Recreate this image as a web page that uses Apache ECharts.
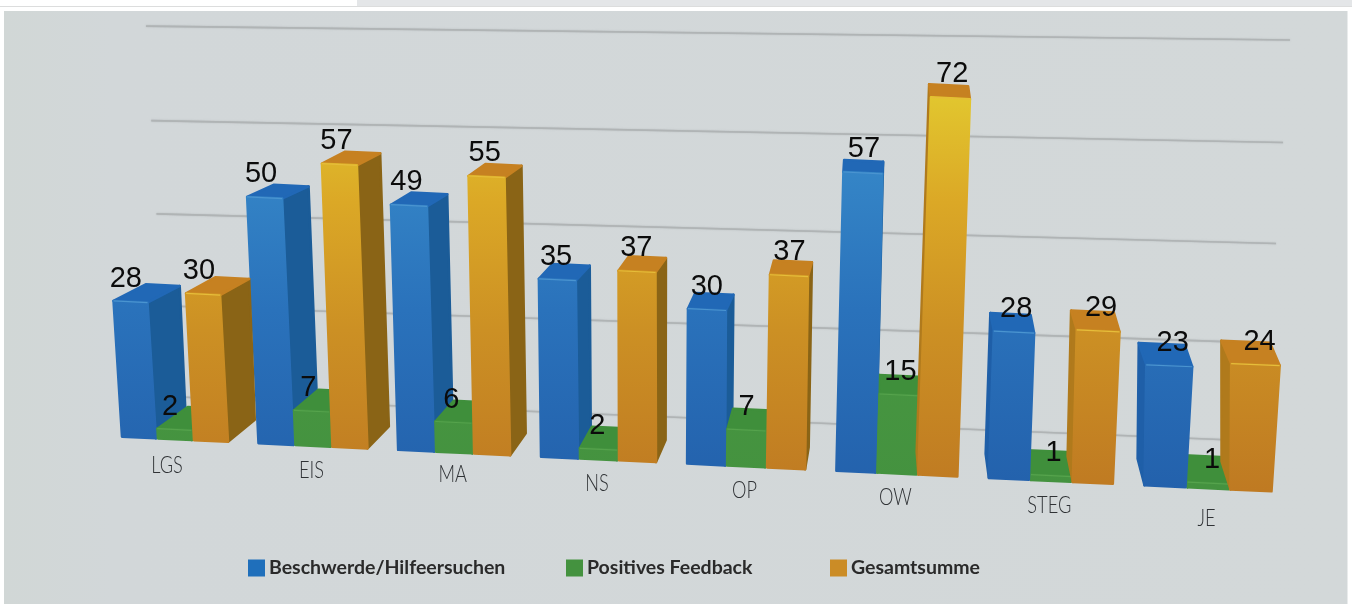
<!DOCTYPE html>
<html><head><meta charset="utf-8">
<style>html,body{margin:0;padding:0;background:#fff}#c{width:1352px;height:604px}</style>
<script src="https://cdn.jsdelivr.net/npm/echarts@6/dist/echarts.min.js"></script>
</head><body><div id="c"></div>
<script>
const categories = ['LGS','EIS','MA','NS','OP','OW','STEG','JE'];
const complaints = [28,50,49,35,30,57,28,23];
const feedback   = [2,7,6,2,7,15,1,1];
const totals     = [30,57,55,37,37,72,29,24];
const gridTicks  = [0,20,40,60,80];
const seriesNames = ['Beschwerde/Hilfeersuchen','Positives Feedback','Gesamtsumme'];

// plain-axis frame; the perspective warp below bends it to the photographed 3D scene
const GRID = {left:101.2, width:1180.6, top:50, height:400};
const UNIT = GRID.height/80, FLOOR = GRID.top+GRID.height, C0 = GRID.left+GRID.width/16, BAND = GRID.width/8;
const uOf = px => (px-C0)/BAND;
const vOf = py => (FLOOR-py)/UNIT;
const bendX = px => { const u=uOf(px); return px+1.6*u*(u-7); };
const base  = x => 437.5+(x-138)*0.0475;
const scale = x => Math.min(5.24,4.85+(x-138)*0.00055);
const lean  = x => Math.max(-0.035,(660-x)*0.00012);
const depthX = x => x<880 ? (880-x)*0.043 : (880-x)*0.026;
const depthY = (x,h) => -(22-10*Math.min(1,h/250)) - Math.max(0,x-880)/310*5;
const labelNudge = [2,0,-2.5,0,0,0,0,6];
const grad = (stops) => ({type:'linear',global:true,x:0,y:90,x2:0,y2:490,
  colorStops:stops.map(s=>({offset:s[0],color:s[1]}))});
const palette = [
 {front:grad([[0,'#4a94cd'],[.22,'#3484c6'],[.55,'#2a72bb'],[1,'#2361ac']]),top:'#2168b6',side:'#1b5c98',sideLeft:'#1f5fa8',edge:'#4a94d0',legend:'#1f6fbb'},
 {front:grad([[0,'#4c9c44'],[1,'#44923f']]),top:'#3f8f3b',side:'#3a8238',sideLeft:'#3f8f3b',edge:'#55a34c',legend:'#44923f'},
 {front:grad([[0,'#e2c82f'],[.28,'#dba826'],[.6,'#cc9024'],[1,'#bf7a22']]),top:'#c68121',side:'#8a6416',sideLeft:'#b07a1c',edge:'#e6bd3a',legend:'#cb8c26'}
];

function poly(points,fill,z2){
  return {type:'polygon',z2:z2,silent:true,shape:{points:points},
    style:{fill:fill,stroke:fill,lineWidth:2.5,lineJoin:'round'}};
}
function barRenderer(s){
  return function(params,api){
    const i=api.value(0), v=api.value(1);
    const p=api.coord([i,v]);
    const cx=bendX(p[0]);
    const w=36+uOf(p[0]);
    const val=vOf(p[1]);
    const c=cx+(s-1)*w;
    const xb0=c-w/2+1, xb1=c+w/2-1;
    const h=scale(c)*val, sh=lean(c)*h;
    const wide=Math.max(0,c-1000)*0.03*Math.min(1,h/100);
    const xt0=xb0-sh-wide/2, xt1=xb1-sh+wide/2;
    const yb0=base(xb0), yb1=base(xb1);
    const yt0=yb0-h, yt1=yb1-h;
    const dxT=depthX((xt0+xt1)/2), dyT=depthY(c,h);
    const dxB=dxT*0.92, dyB=depthY(c,0);
    const right=c<880;
    const order=c<880?[1,2,3]:[3,1,2];
    const z=order[s]*10;
    const P=palette[s];
    const kids=[];
    if(right){
      kids.push(poly([[xt1,yt1],[xt1+dxT,yt1+dyT],[xb1+dxB,yb1+dyB],[xb1,yb1]],P.side,z));
    }else{
      kids.push(poly([[xt0,yt0],[xt0+dxT,yt0+dyT],[xb0+dxB,yb0+dyB],[xb0,yb0]],P.sideLeft,z));
    }
    kids.push(poly([[xt0,yt0],[xt0+dxT,yt0+dyT],[xt1+dxT,yt1+dyT],[xt1,yt1]],P.top,z+1));
    kids.push(poly([[xt0,yt0],[xt1,yt1],[xb1,yb1],[xb0,yb0]],P.front,z+2));
    kids.push({type:'line',z2:z+3,silent:true,shape:{x1:xt0,y1:yt0,x2:xt1,y2:yt1},style:{stroke:P.edge,lineWidth:1.2}});
    kids.push({type:'text',z2:200,silent:true,style:{
      text:String(api.value(1)),x:(xt0+xt1)/2+(c-600)*0.008-1,y:yt0-22-Math.max(0,val-30)*0.04,align:'center',verticalAlign:'middle',
      font:'29px "Liberation Sans"',fill:'#0b0b0b',shadowColor:'rgba(0,0,0,0.6)',shadowBlur:4,shadowOffsetY:1}});
    return {type:'group',children:kids};
  };
}
function labelRenderer(params,api){
  const i=api.value(0);
  const p=api.coord([i,0]);
  const cx=bendX(p[0]);
  const off=i===0?-8:-1.5;
  return {type:'text',silent:true,z2:100,x:cx+off,y:base(cx)+24+labelNudge[i],scaleX:0.76,
    style:{text:categories[i],x:0,y:0,align:'center',verticalAlign:'middle',font:'300 24px Lato',fill:'#2f3235'}};
}
function gridRenderer(params,api){
  const t=api.value(1);
  const py=api.coord([0,t])[1], v=vOf(py);
  const a=389.6-4.43*v-0.0017*v*v, b=0.0409-0.000359*v;
  const x0=167-v*0.2625, x1=1262+v*0.35;
  return {type:'line',silent:true,z2:0,shape:{x1:x0,y1:a+b*x0,x2:x1,y2:a+b*x1},
    style:{stroke:'#b0b4b5',lineWidth:1.6,shadowColor:'rgba(150,155,156,0.6)',shadowBlur:1.5}};
}

const chart=echarts.init(document.getElementById('c'),null,{renderer:'canvas'});
const legendAt=[243,561,825];
const barData=[complaints,feedback,totals];
chart.setOption({
  animation:false,
  backgroundColor:'#ffffff',
  graphic:[
    {type:'rect',z:-10,shape:{x:357,y:0,width:995,height:6},style:{fill:'#e4e6e8'}},
    {type:'rect',z:-10,shape:{x:0,y:6,width:1352,height:1},style:{fill:'#dcdddd'}},
    {type:'rect',z:-10,shape:{x:4,y:11,width:1343.5,height:593},style:{fill:{type:'linear',x:0,y:0,x2:1,y2:0,
      colorStops:[{offset:0,color:'#d1d7d6'},{offset:.08,color:'#d2d7d9'},{offset:1,color:'#d3d8d9'}]}}}
  ],
  grid:GRID,
  xAxis:{type:'category',data:categories,show:false},
  yAxis:{type:'value',min:0,max:80,interval:20,show:false},
  legend:legendAt.map((x,k)=>({left:x,top:553,data:[seriesNames[k]],icon:'rect',itemWidth:17,itemHeight:17,itemGap:4,
    selectedMode:false,textStyle:{fontFamily:'Lato',fontWeight:700,fontSize:19.5,color:'#2a2a2a',padding:[0,0,0,-1]}})),
  series:[
    {type:'custom',name:'grid',silent:true,z:2,coordinateSystem:'cartesian2d',clip:false,
      data:gridTicks.map(t=>[0,t]),renderItem:gridRenderer},
    {type:'custom',name:'labels',silent:true,z:2,coordinateSystem:'cartesian2d',clip:false,
      data:categories.map((c,i)=>[i,0]),renderItem:labelRenderer},
    ...seriesNames.map((n,s)=>({type:'custom',name:n,z:2,coordinateSystem:'cartesian2d',clip:false,
      itemStyle:{color:palette[s].legend},
      data:barData[s].map((v,i)=>[i,v]),renderItem:barRenderer(s)}))
  ]
});
</script></body></html>
